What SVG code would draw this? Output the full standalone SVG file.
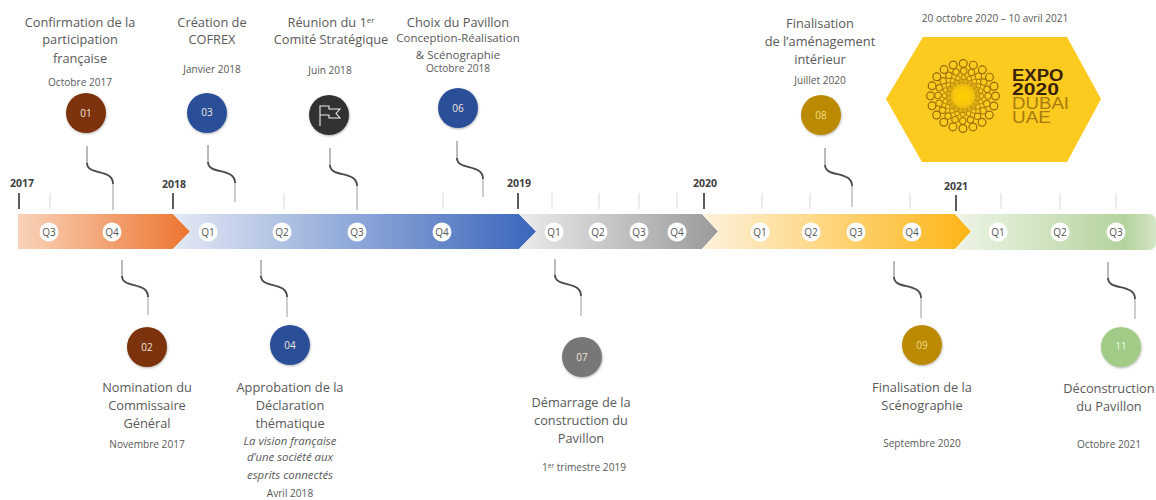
<svg xmlns="http://www.w3.org/2000/svg" width="1156" height="500" viewBox="0 0 1156 500">
<style>
text{font-family:"Open Sans","Noto Sans","Liberation Sans",sans-serif;text-anchor:middle;fill:#595959}
.t{font-size:12.8px}
.s{font-size:11.5px}
.d{font-size:10.1px}
.y{font-size:10.5px;font-weight:700;fill:#404040}
.q{font-size:10px;fill:#555}
.n{font-size:10px;fill:#f2e6dc}
.i{font-size:11.4px;font-style:italic}
.qc{fill:#fff}
.f{stroke:#d9d9d9;stroke-width:1;fill:none}
.m{stroke:#333;stroke-width:1.6;fill:none}
.c1{stroke:#777;stroke-width:1;fill:none}
.c2{stroke:#4a4a4a;stroke-width:1.9;fill:none}
.c3{stroke:#bdbdbd;stroke-width:1.5;fill:none}
.l{font-family:"Liberation Sans",sans-serif;font-size:15.8px;text-anchor:start;fill:#3a2205}
.lb{font-weight:700}
.ll{fill:#a87a10}
.dot{fill:none;stroke-linecap:round}
</style>
<defs>
<filter id="sh" x="-20%" y="-20%" width="140%" height="140%"><feDropShadow dx="0.5" dy="1" stdDeviation="0.8" flood-color="#000" flood-opacity="0.3"/></filter>
<linearGradient id="g1"><stop offset="0" stop-color="#f9d3ba"/><stop offset="1" stop-color="#ec7530"/></linearGradient>
<linearGradient id="g2"><stop offset="0" stop-color="#e3e9f5"/><stop offset="1" stop-color="#3a66bb"/></linearGradient>
<linearGradient id="g3"><stop offset="0" stop-color="#ebebeb"/><stop offset="1" stop-color="#9a9a9a"/></linearGradient>
<linearGradient id="g4"><stop offset="0" stop-color="#fef2dc"/><stop offset="1" stop-color="#fdb515"/></linearGradient>
<linearGradient id="g5"><stop offset="0" stop-color="#eef5e7"/><stop offset="0.85" stop-color="#b4d39d"/><stop offset="1" stop-color="#d4e6c6"/></linearGradient>
<radialGradient id="sun"><stop offset="0" stop-color="#ffd000"/><stop offset="0.5" stop-color="#f8c70c"/><stop offset="1" stop-color="#d9a514"/></radialGradient>
</defs>

<g id="timeline">
<path d="M18 214H173L190 231.500L173 249H18Z" fill="url(#g1)"/>
<path d="M173 214H519L536 231.500L519 249H173L190 231.500Z" fill="url(#g2)"/>
<path d="M519 214H702L718 231.500L702 249H519L536 231.500Z" fill="url(#g3)"/>
<path d="M702 214H955L971 231.500L955 249H702L718 231.500Z" fill="url(#g4)"/>
<path d="M955 214H1148Q1156 214 1156 222V242Q1156 250 1148 250H955L971 231.500Z" fill="url(#g5)"/>
</g>

<g id="ticks">
<path class="f" d="M50 193V209M284 193V209M443 193V209M552 193V209M599 193V209M639 193V209M677 193V209M762 193V209M810 193V209M910 193V209M1001 193V209M1060 193V209M1116 193V209"/>
<path class="m" d="M19 193V209M173 193V209M518 193V209M704 193V209M956 195V211"/>
<text class="y" x="22" y="187">2017</text>
<text class="y" x="174" y="188">2018</text>
<text class="y" x="519" y="187">2019</text>
<text class="y" x="705" y="187">2020</text>
<text class="y" x="956" y="190">2021</text>
</g>

<g id="quarters">
<g id="q-2017-3"><circle class="qc" cx="49" cy="232" r="9.500"/><text class="q" x="49" y="235.500">Q3</text></g>
<g id="q-2017-4"><circle class="qc" cx="112" cy="232" r="9.500"/><text class="q" x="112" y="235.500">Q4</text></g>
<g id="q-2018-1"><circle class="qc" cx="208" cy="232" r="9.500"/><text class="q" x="208" y="235.500">Q1</text></g>
<g id="q-2018-2"><circle class="qc" cx="282" cy="232" r="9.500"/><text class="q" x="282" y="235.500">Q2</text></g>
<g id="q-2018-3"><circle class="qc" cx="357" cy="232" r="9.500"/><text class="q" x="357" y="235.500">Q3</text></g>
<g id="q-2018-4"><circle class="qc" cx="442" cy="232" r="9.500"/><text class="q" x="442" y="235.500">Q4</text></g>
<g id="q-2019-1"><circle class="qc" cx="554" cy="232" r="9.500"/><text class="q" x="554" y="235.500">Q1</text></g>
<g id="q-2019-2"><circle class="qc" cx="598" cy="232" r="9.500"/><text class="q" x="598" y="235.500">Q2</text></g>
<g id="q-2019-3"><circle class="qc" cx="639" cy="232" r="9.500"/><text class="q" x="639" y="235.500">Q3</text></g>
<g id="q-2019-4"><circle class="qc" cx="677" cy="232" r="9.500"/><text class="q" x="677" y="235.500">Q4</text></g>
<g id="q-2020-1"><circle class="qc" cx="760" cy="232" r="9.500"/><text class="q" x="760" y="235.500">Q1</text></g>
<g id="q-2020-2"><circle class="qc" cx="811" cy="232" r="9.500"/><text class="q" x="811" y="235.500">Q2</text></g>
<g id="q-2020-3"><circle class="qc" cx="856" cy="232" r="9.500"/><text class="q" x="856" y="235.500">Q3</text></g>
<g id="q-2020-4"><circle class="qc" cx="912" cy="232" r="9.500"/><text class="q" x="912" y="235.500">Q4</text></g>
<g id="q-2021-1"><circle class="qc" cx="998" cy="232" r="9.500"/><text class="q" x="998" y="235.500">Q1</text></g>
<g id="q-2021-2"><circle class="qc" cx="1060" cy="232" r="9.500"/><text class="q" x="1060" y="235.500">Q2</text></g>
<g id="q-2021-3"><circle class="qc" cx="1116" cy="232" r="9.500"/><text class="q" x="1116" y="235.500">Q3</text></g>
</g>

<g id="connectors">
<g transform="translate(87,146)"><path class="c1" d="M0 0V17"/><path class="c2" d="M0 17C0 30 26 22 26 38"/><path class="c3" d="M26 38V64"/></g>
<g transform="translate(208,145)"><path class="c1" d="M0 0V17"/><path class="c2" d="M0 17C0 30 27 22 27 38"/><path class="c3" d="M27 38V57"/></g>
<g transform="translate(330,148)"><path class="c1" d="M0 0V17"/><path class="c2" d="M0 17C0 30 27 22 27 38"/><path class="c3" d="M27 38V62"/></g>
<g transform="translate(457,141)"><path class="c1" d="M0 0V17"/><path class="c2" d="M0 17C0 30 26 22 26 38"/><path class="c3" d="M26 38V56"/></g>
<g transform="translate(825,148)"><path class="c1" d="M0 0V17"/><path class="c2" d="M0 17C0 30 27 22 27 38"/><path class="c3" d="M27 38V59"/></g>
<g transform="translate(122,260)"><path class="c1" d="M0 0V16"/><path class="c2" d="M0 16C0 29 26 21 26 37"/><path class="c3" d="M26 37V55"/></g>
<g transform="translate(261,260)"><path class="c1" d="M0 0V16"/><path class="c2" d="M0 16C0 29 26 21 26 37"/><path class="c3" d="M26 37V57"/></g>
<g transform="translate(555,259)"><path class="c1" d="M0 0V16"/><path class="c2" d="M0 16C0 29 26 21 26 37"/><path class="c3" d="M26 37V57"/></g>
<g transform="translate(894,261)"><path class="c1" d="M0 0V16"/><path class="c2" d="M0 16C0 29 27 21 27 37"/><path class="c3" d="M27 37V57"/></g>
<g transform="translate(1108,262)"><path class="c1" d="M0 0V16"/><path class="c2" d="M0 16C0 29 27 21 27 37"/><path class="c3" d="M27 37V57"/></g>
</g>

<g id="node-01">
<text class="t" x="80" y="27">Confirmation de la</text>
<text class="t" x="80" y="44">participation</text>
<text class="t" x="80" y="63">française</text>
<text class="d" x="80" y="86">Octobre 2017</text>
<circle cx="86" cy="113" r="20" fill="#7b3308" filter="url(#sh)"/>
<text class="n" x="86" y="117">01</text>
</g>
<g id="node-02">
<circle cx="147" cy="347" r="20" fill="#7b3308" filter="url(#sh)"/>
<text class="n" x="147" y="351">02</text>
<text class="t" x="147" y="392">Nomination du</text>
<text class="t" x="147" y="410">Commissaire</text>
<text class="t" x="147" y="428">Général</text>
<text class="d" x="147" y="448">Novembre 2017</text>
</g>
<g id="node-03">
<text class="t" x="212" y="27">Création de</text>
<text class="t" x="212" y="44">COFREX</text>
<text class="d" x="212" y="73">Janvier 2018</text>
<circle cx="207" cy="113" r="20" fill="#2b4f98" filter="url(#sh)"/>
<text class="n" x="207" y="116">03</text>
</g>
<g id="node-04">
<circle cx="290" cy="345" r="20" fill="#2b4f98" filter="url(#sh)"/>
<text class="n" x="290" y="349">04</text>
<text class="t" x="290" y="392">Approbation de la</text>
<text class="t" x="290" y="410">Déclaration</text>
<text class="t" x="290" y="428">thématique</text>
<text class="i" x="290" y="445">La vision française</text>
<text class="i" x="290" y="461">d’une société aux</text>
<text class="i" x="290" y="479">esprits connectés</text>
<text class="d" x="290" y="497">Avril 2018</text>
</g>
<g id="node-05">
<text class="t" x="331" y="27">Réunion du 1<tspan font-size="8" dy="-4">er</tspan></text>
<text class="t" x="331" y="44">Comité Stratégique</text>
<text class="d" x="330" y="74">Juin 2018</text>
<circle cx="329" cy="115" r="20" fill="#333" filter="url(#sh)"/>
<path d="M320 126V106H329V109H340L336 113.500L340 118H329V115H320" fill="none" stroke="#eee" stroke-width="1.100"/>
</g>
<g id="node-06">
<text class="t" x="458" y="27">Choix du Pavillon</text>
<text class="s" x="458" y="42">Conception-Réalisation</text>
<text class="s" x="458" y="59">&amp; Scénographie</text>
<text class="d" x="458" y="72">Octobre 2018</text>
<circle cx="458" cy="108" r="20" fill="#2b4f98" filter="url(#sh)"/>
<text class="n" x="458" y="112">06</text>
</g>
<g id="node-07">
<circle cx="582" cy="357" r="20" fill="#777" filter="url(#sh)"/>
<text class="n" x="582" y="361">07</text>
<text class="t" x="581" y="407">Démarrage de la</text>
<text class="t" x="581" y="425">construction du</text>
<text class="t" x="581" y="443">Pavillon</text>
<text class="d" x="584" y="471">1<tspan font-size="6.500" dy="-3">er</tspan><tspan dy="3"> trimestre 2019</tspan></text>
</g>
<g id="node-08">
<text class="t" x="820" y="28">Finalisation</text>
<text class="t" x="820" y="46">de l’aménagement</text>
<text class="t" x="820" y="64">intérieur</text>
<text class="d" x="820" y="84">Juillet 2020</text>
<circle cx="821" cy="115" r="20" fill="#bb8a05" filter="url(#sh)"/>
<text class="n" x="821" y="119" style="fill:#f5dc8a">08</text>
</g>
<g id="node-09">
<circle cx="922" cy="345" r="20" fill="#bb8a05" filter="url(#sh)"/>
<text class="n" x="922" y="349" style="fill:#f5dc8a">09</text>
<text class="t" x="922" y="392">Finalisation de la</text>
<text class="t" x="922" y="410">Scénographie</text>
<text class="d" x="922" y="447">Septembre  2020</text>
</g>
<g id="node-11">
<circle cx="1121" cy="347" r="20" fill="#a2cb87" filter="url(#sh)"/>
<text class="n" x="1121" y="350" style="fill:#f0f7e8">11</text>
<text class="t" x="1109" y="393">Déconstruction</text>
<text class="t" x="1109" y="411">du Pavillon</text>
<text class="d" x="1109" y="448">Octobre 2021</text>
</g>

<g id="expo">
<text class="d" x="995" y="22">20 octobre 2020 – 10 avril 2021</text>
<path d="M923 37H1067L1101 99L1067 162H922L886 99Z" fill="#fdcb1f"/>
<circle cx="963" cy="96" r="17" fill="url(#sun)"/>
<circle class="dot" cx="963" cy="96" r="32.500" stroke="#96690a" stroke-width="9" stroke-dasharray="0 10.210"/>
<circle class="dot" cx="963" cy="96" r="32.500" stroke="#fdcb1f" stroke-width="6.600" stroke-dasharray="0 10.210"/>
<circle class="dot" cx="963" cy="96" r="25" stroke="#a3750a" stroke-width="7.500" stroke-dasharray="0 7.854"/>
<circle class="dot" cx="963" cy="96" r="25" stroke="#fdcb1f" stroke-width="5.300" stroke-dasharray="0 7.854"/>
<circle class="dot" cx="963" cy="96" r="18.500" stroke="#b5850c" stroke-width="5.500" stroke-dasharray="0 5.812"/>
<circle class="dot" cx="963" cy="96" r="18.500" stroke="#fdcb1f" stroke-width="3.600" stroke-dasharray="0 5.812"/>
<circle class="dot" cx="963" cy="96" r="13.500" stroke="#c89a10" stroke-width="3" stroke-dasharray="0 4.241"/>
<text class="l lb" x="1012" y="81" textLength="51.500" lengthAdjust="spacingAndGlyphs">EXPO</text>
<text class="l lb" x="1012" y="95" textLength="47" lengthAdjust="spacingAndGlyphs">2020</text>
<text class="l ll" x="1012" y="109" textLength="57" lengthAdjust="spacingAndGlyphs">DUBAI</text>
<text class="l ll" x="1012" y="123" textLength="39" lengthAdjust="spacingAndGlyphs">UAE</text>
</g>
</svg>
